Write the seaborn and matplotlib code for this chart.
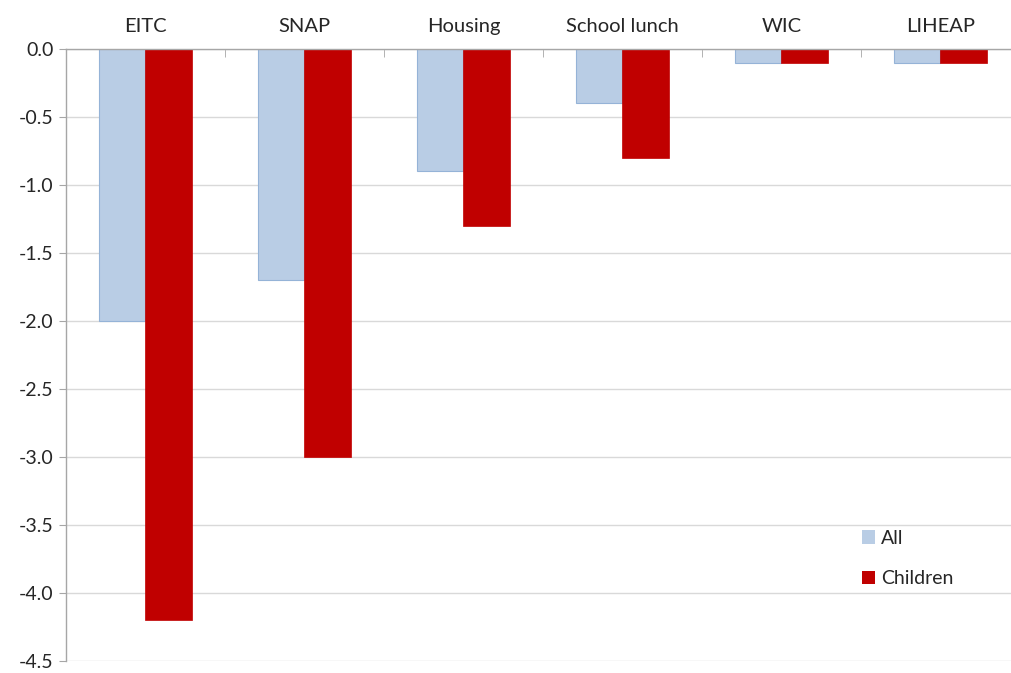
import pandas as pd
import matplotlib.pyplot as plt
import seaborn as sns
import numpy as np

# Dados do grafico
programas = ['EITC', 'SNAP', 'Housing', 'School lunch', 'WIC', 'LIHEAP']
valores_all = [-2.0, -1.7, -0.9, -0.4, -0.1, -0.1]
valores_children = [-4.2, -3.0, -1.3, -0.8, -0.1, -0.1]
grupos = ['All', 'Children']
y_ticks = [0.0, -0.5, -1.0, -1.5, -2.0, -2.5, -3.0, -3.5, -4.0, -4.5]

df = pd.DataFrame({
    'Programa': programas * 2,
    'Grupo': ['All'] * len(programas) + ['Children'] * len(programas),
    'Valor': valores_all + valores_children,
})

sns.set_style('white')
plt.rcParams['font.family'] = ['Lato', 'DejaVu Sans']

fig = plt.figure(figsize=(10.12, 6.73), dpi=100)
ax = fig.add_axes([66 / 1012, 12 / 673, 954 / 1012, 612 / 673])

sns.barplot(
    data=df, x='Programa', y='Valor', hue='Grupo', order=programas,
    hue_order=grupos, palette=['#B9CDE5', '#C00000'], width=0.58,
    saturation=1, ax=ax, legend=True
)

# Borda azul nas barras "All"
for bar in ax.containers[0]:
    bar.set_edgecolor('#95B3D7')
    bar.set_linewidth(0.8)
for bar in ax.containers[1]:
    bar.set_edgecolor('#C00000')
    bar.set_linewidth(0.5)

ax.set_ylim(-4.5, 0)
ax.set_xlim(-0.5, len(programas) - 0.5)
ax.set_yticks(y_ticks)
ax.set_yticklabels([f'{v:.1f}' for v in y_ticks], fontsize=14, color='#262626')
ax.yaxis.grid(True, color='#D9D9D9', linewidth=1)
ax.set_axisbelow(True)

ax.xaxis.tick_top()
ax.set_xticks(range(len(programas)))
ax.set_xticklabels(programas, fontsize=14.5, color='#262626')
ax.tick_params(axis='x', which='major', length=0, pad=10)
ax.set_xticks(np.arange(0.5, len(programas) - 0.5), minor=True)
ax.tick_params(axis='x', which='minor', direction='in', length=6,
               color='#A6A6A6', top=True, bottom=False)
ax.tick_params(axis='y', which='major', length=5, color='#A6A6A6', left=True,
               pad=4)

ax.set_xlabel('')
ax.set_ylabel('')
for lado in ['right', 'bottom']:
    ax.spines[lado].set_visible(False)
for lado in ['left', 'top']:
    ax.spines[lado].set_color('#A6A6A6')
    ax.spines[lado].set_linewidth(1)

leg = ax.legend(
    loc='upper left', bbox_to_anchor=(0.826, (661 - 522) / 612),
    frameon=False, fontsize=14, handlelength=0.7, handleheight=0.7,
    handletextpad=0.3, labelspacing=1.2, borderaxespad=0
)
for h in leg.legend_handles:
    h.set_linewidth(0)

fig.savefig('out.png', dpi=100)
print('Grafico salvo em: out.png')
